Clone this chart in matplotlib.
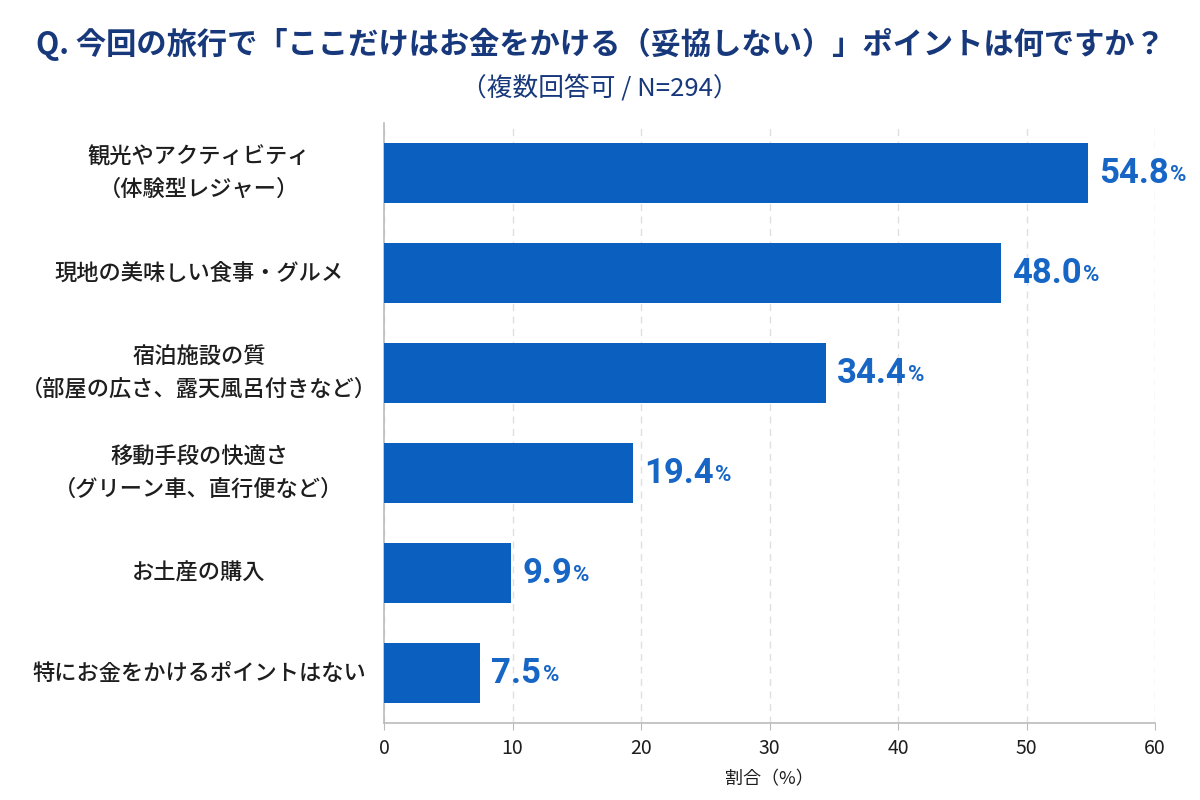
import matplotlib
matplotlib.use("Agg")
import matplotlib.pyplot as plt
import matplotlib.transforms as mtransforms

plt.rcParams['font.family'] = ['Noto Sans CJK JP', 'DejaVu Sans']

# data
categories = [
    "観光やアクティビティ\n（体験型レジャー）",
    "現地の美味しい食事・グルメ",
    "宿泊施設の質\n（部屋の広さ、露天風呂付きなど）",
    "移動手段の快適さ\n（グリーン車、直行便など）",
    "お土産の購入",
    "特にお金をかけるポイントはない",
]
values = [54.8, 48.0, 34.4, 19.4, 9.9, 7.5]
xticks = [0, 10, 20, 30, 40, 50, 60]

title = "Q. 今回の旅行で「ここだけはお金をかける（妥協しない）」ポイントは何ですか？"
subtitle = "（複数回答可 / N=294）"
xlabel = "割合（%）"

bar_color = "#0B5FBF"
val_color = "#1766C6"
navy = "#18387C"
text_col = "#1e1e1e"

fig = plt.figure(figsize=(12, 8), dpi=100)
ax = fig.add_axes([0.32, 0.096, 0.6425, 0.75])

ypos = list(range(len(values)))
ax.barh(ypos, values, height=0.6, color=bar_color, zorder=3)
ax.set_ylim(len(values) - 0.5, -0.5)
ax.set_xlim(0, 60)

ax.set_xticks(xticks)
ax.set_xticklabels([str(t) for t in xticks], fontsize=14, color=text_col)
ax.tick_params(axis='x', length=5, color="#bbbbbb", pad=6)
ax.set_yticks([])
ax.grid(axis='x', linestyle=(0, (5, 4)), color="#e0e0e0", linewidth=1, zorder=0)

for s in ['top', 'right']:
    ax.spines[s].set_visible(False)
for s in ['left', 'bottom']:
    ax.spines[s].set_color("#bbbbbb")
    ax.spines[s].set_linewidth(1.2)

ax.set_xlabel(xlabel, fontsize=13, color=text_col, labelpad=8)

# category labels centred left of the axes
trans = mtransforms.blended_transform_factory(ax.transAxes, ax.transData)
for y, lab in zip(ypos, categories):
    ax.text(-0.24, y, lab, transform=trans, ha='center', va='center',
            fontsize=16, color=text_col, linespacing=1.5, fontweight='medium')

# value labels: big number + small %
for y, v in zip(ypos, values):
    num = ax.annotate(f"{v:.1f}", xy=(v, y), xytext=(8, 0), textcoords='offset points',
                      ha='left', va='center', fontsize=25, fontweight='bold',
                      color=val_color, family=['Roboto', 'DejaVu Sans'])
    ax.annotate("%", xy=(1, 0), xycoords=num, xytext=(1, 3), textcoords='offset points',
                ha='left', va='bottom', fontsize=16, fontweight='bold',
                color=val_color, family=['Roboto', 'DejaVu Sans'])

fig.text(0.5, 0.945, title, ha='center', va='center', fontsize=21.8,
         fontweight='bold', color=navy)
fig.text(0.5, 0.89, subtitle, ha='center', va='center', fontsize=18.5, color=navy)

fig.savefig("out.png", dpi=100, facecolor='white')
